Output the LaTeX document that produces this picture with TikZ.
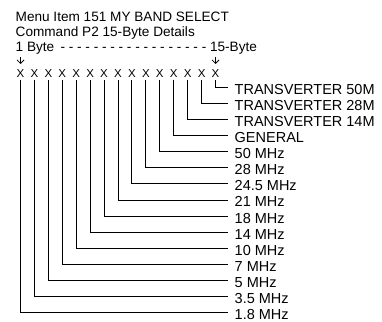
\documentclass[tikz,border=0pt]{standalone}
\usepackage{fontspec}
\setmainfont{Liberation Sans}
\usetikzlibrary{arrows.meta}
\begin{document}
\begin{tikzpicture}[x=1pt,y=-1pt,
  hdr/.style={font=\fontsize{13.6}{16}\selectfont, anchor=base west, inner sep=0},
  lbl/.style={font=\fontsize{14.5}{16}\selectfont, anchor=base west, inner sep=0},
  bit/.style={font=\fontsize{11.5}{12}\selectfont, inner sep=0, outer sep=2pt},
  wire/.style={line width=1pt},
  arr/.style={line width=0.8pt,-{Straight Barb[length=3.5pt,width=7pt]}}]
\useasboundingbox (0,0) rectangle (382,321);
\node[hdr] (t1) at (15.5,21.5) {Menu Item 151 MY BAND SELECT};
\node[hdr] (t2) at (15.5,37) {Command P2 15-Byte Details};
\node[hdr] (t3) at (15.5,52) {1 Byte\hspace{2.5pt} - - - - - - - - - - - - - - - - - - 15-Byte};
\coordinate (a1t) at (20.5,56.5);
\coordinate (a1b) at (20.5,64);
\coordinate (a2t) at (215.5,56.5);
\coordinate (a2b) at (215.5,64);
\draw[arr] (a1t) -- (a1b);
\draw[arr] (a2t) -- (a2b);
\foreach \i in {0,...,14} \node[bit] (x\i) at ({20.5+13.93*\i},74) {X};
\foreach \lab [count=\k from 0] in {TRANSVERTER 50M,TRANSVERTER 28M,TRANSVERTER 14M,GENERAL,50 MHz,28 MHz,24.5 MHz,21 MHz,18 MHz,14 MHz,10 MHz,7 MHz,5 MHz,3.5 MHz,1.8 MHz} {
  \pgfmathsetmacro\yy{87.3+16.1*\k}
  \pgfmathtruncatemacro\ii{14-\k}
  \node[lbl] (l\k) at (234.5,\yy+6.9) {\lab};
  \coordinate (e\k) at (228,\yy);
  \draw[wire] (x\ii.south) |- (e\k);
}
\end{tikzpicture}
\end{document}
